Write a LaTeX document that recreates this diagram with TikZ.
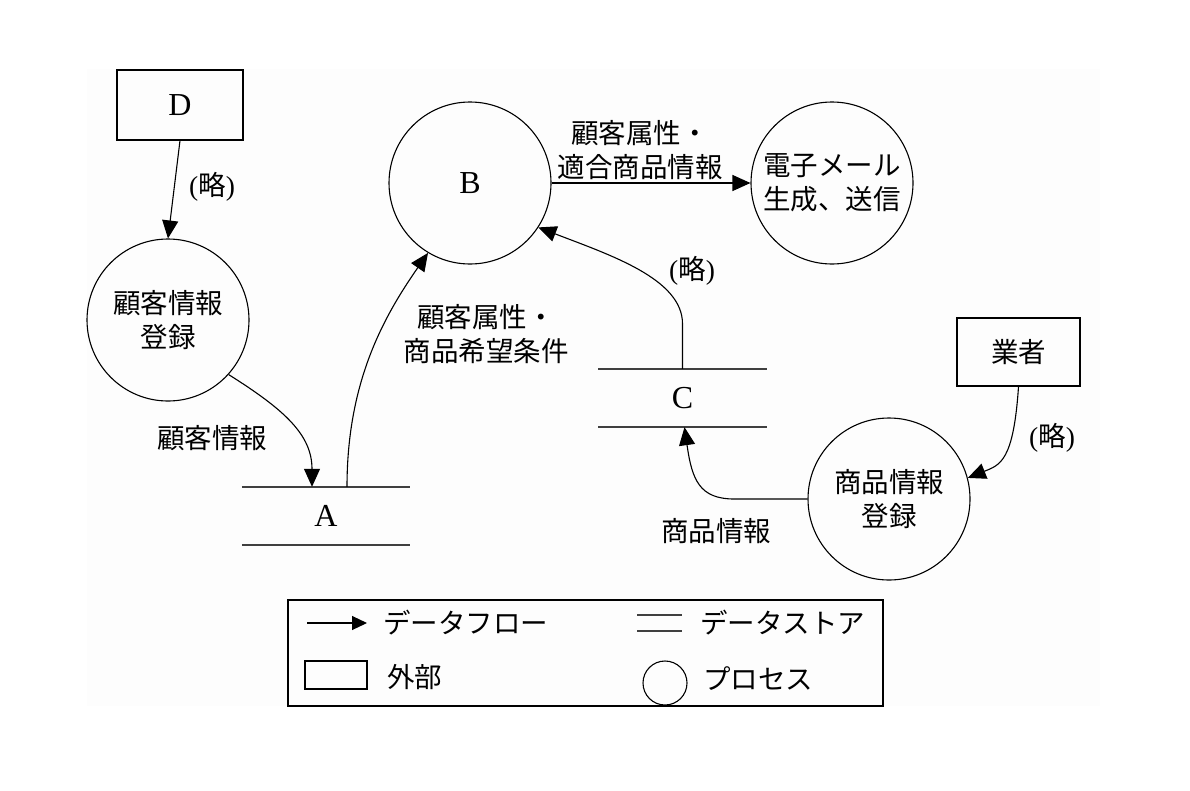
\documentclass[tikz,border=0pt]{standalone}
\usepackage{fontspec}
\setmainfont{Liberation Serif}
\newfontfamily\jp{Noto Sans CJK JP}
\usetikzlibrary{arrows.meta}
\begin{document}
\begin{tikzpicture}[x=1pt,y=-1pt,
  every node/.style={font=\fontsize{27.5}{34}\selectfont\jp, align=center, inner sep=0pt},
  proc/.style={draw, circle, minimum size=162pt, line width=1.1pt},
  ext/.style={draw, rectangle, line width=1.1pt},
  storebox/.style={minimum width=168pt, minimum height=58pt},
  storeline/.style={line width=1.6pt, black!75},
  flow/.style={line width=1.1pt, -{Triangle[length=18pt,width=16pt]}},
  legflow/.style={line width=1.1pt, -{Triangle[length=15pt,width=14pt]}},
  lat/.style={font=\fontsize{32}{34}\selectfont\rmfamily}]
\useasboundingbox (0,0) rectangle (1190,790);
\fill[black!0.8] (87,69) rectangle (1100,706);

% external entities
\node[ext, minimum width=126pt, minimum height=70pt, lat] (D) at (180,105) {D};
\node[ext, minimum width=123pt, minimum height=68pt] (gyo) at (1018.5,352) {業者};

% processes
\node[proc] (reg1) at (168,320) {顧客情報\\登録};
\node[proc, lat] (B) at (470,183) {B};
\node[proc] (E) at (832,183) {電子メール\\生成、送信};
\node[proc] (reg2) at (889,499) {商品情報\\登録};

% data stores
\node[storebox, lat] (A) at (326,516) {A};
\draw[storeline] (A.north west) -- (A.north east);
\draw[storeline] (A.south west) -- (A.south east);
\node[storebox, lat] (C) at (682.5,398) {C};
\draw[storeline] (C.north west) -- (C.north east);
\draw[storeline] (C.south west) -- (C.south east);

% flows
\draw[flow] (D.south) -- (reg1.north);
\node (l1) at (212,187) {{\rmfamily(}略{\rmfamily)}};

\draw[flow] (reg1.-42) .. controls (285,410) and (312,435) .. ([xshift=-14pt]A.north);
\node (l2) at (212,438) {顧客情報};

\draw[flow] ([xshift=21pt]A.north) .. controls (347,380) and (385,315) .. (B.-121);
\node (l3) at (486,334) {顧客属性・\\商品希望条件};

\draw[flow] (B.east) -- (E.west);
\node (l4) at (640,150) {顧客属性・\\適合商品情報};

\draw[flow] (C.north) -- ++(0,-45) .. controls +(0,-45) and (610,255) .. (B.-33);
\node (l5) at (692,271) {{\rmfamily(}略{\rmfamily)}};

\draw[flow] (gyo.south) .. controls +(-5,75) and (1000,465) .. (reg2.15);
\node (l6) at (1052,438) {{\rmfamily(}略{\rmfamily)}};

\draw[flow] (reg2.west) -- ++(-73,0) .. controls +(-35,0) and (692,480) .. ([xshift=2pt]C.south);
\node (l7) at (716,531) {商品情報};

% legend
\node[draw, line width=1.1pt, minimum width=595pt, minimum height=106pt] (leg) at (585.5,653) {};
\coordinate (lf1) at (307,623);
\coordinate (lf2) at (367,623);
\draw[legflow] (lf1) -- (lf2);
\node[anchor=west] (lt1) at (383,623) {データフロー};
\coordinate (ls1) at (637,615);
\coordinate (ls2) at (682,615);
\coordinate (ls3) at (637,631);
\coordinate (ls4) at (682,631);
\draw[storeline, line width=1.3pt] (ls1) -- (ls2);
\draw[storeline, line width=1.3pt] (ls3) -- (ls4);
\node[anchor=west] (lt2) at (700,623) {データストア};
\node[ext, minimum width=62pt, minimum height=28pt] (lext) at (336,675) {};
\node[anchor=west] (lt3) at (387,677) {外部};
\node[draw, circle, line width=1.1pt, minimum size=44pt] (lproc) at (665,683) {};
\node[anchor=west] (lt4) at (703,679) {プロセス};
\end{tikzpicture}
\end{document}
